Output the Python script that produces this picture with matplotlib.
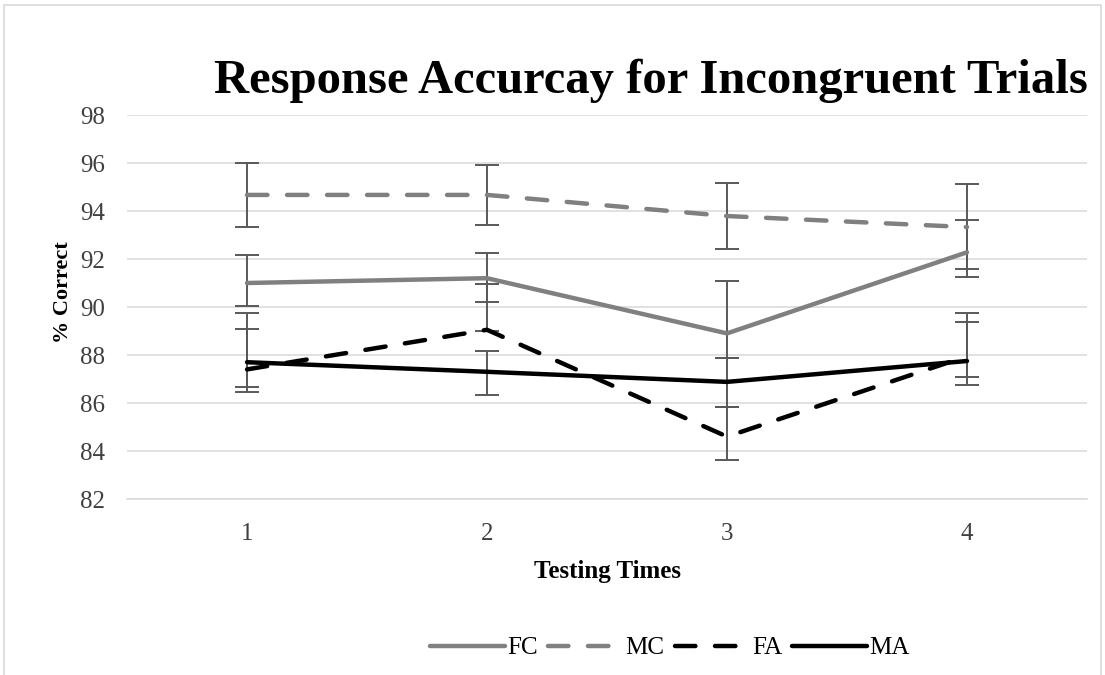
import numpy as np
import matplotlib.pyplot as plt
from matplotlib.patches import Rectangle

# Testing times on x axis
times = [1, 2, 3, 4]

# Mean % correct per group
fc = [91.0, 91.2, 88.9, 92.28]
mc = [94.67, 94.67, 93.79, 93.33]
fa = [87.4, 89.05, 84.6, 87.95]
ma = [87.7, 87.3, 86.88, 87.75]

# Error-bar ends (upper, lower), as drawn in the original
fc_hi = [92.17, 92.24, 91.08, 93.63]
fc_lo = [90.03, 90.20, 87.86, 91.26]
mc_hi = [96.01, 95.92, 95.18, 95.13]
mc_lo = [93.32, 93.42, 92.42, 91.57]
fa_hi = [89.07, 90.95, 85.85, 89.39]
fa_lo = [86.66, 89.01, 83.63, 87.10]
ma_hi = [89.76, 88.18, 87.86, 89.74]
ma_lo = [86.44, 86.32, 85.85, 86.75]

yticks = [82, 84, 86, 88, 90, 92, 94, 96, 98]

plt.rcParams['font.family'] = ['Liberation Serif', 'DejaVu Serif']

fig = plt.figure(figsize=(11.05, 6.75), dpi=100)
# light chart border
fig.patches.append(Rectangle((0.004, -0.01), 0.992, 1.002, transform=fig.transFigure,
                             fill=False, edgecolor='#d9d9d9', linewidth=1.2))

ax = fig.add_axes([127 / 1105, 1 - 499 / 675, 960 / 1105, 384 / 675])

gray = '#808080'
bar_color = '#595959'

series = [
    ('FC', fc, fc_hi, fc_lo, gray, '-'),
    ('MC', mc, mc_hi, mc_lo, gray, (0, (4.6, 4.4))),
    ('FA', fa, fa_hi, fa_lo, 'black', (0, (4.6, 4.4))),
    ('MA', ma, ma_hi, ma_lo, 'black', '-'),
]

for name, vals, hi, lo, col, ls in series:
    vals = np.array(vals)
    yerr = [vals - np.array(lo), np.array(hi) - vals]
    ax.errorbar(times, vals, yerr=yerr, fmt='none', ecolor=bar_color,
                elinewidth=1.4, capsize=8.5, capthick=1.4, zorder=3)

for name, vals, hi, lo, col, ls in series:
    ax.plot(times, vals, color=col, linestyle=ls, linewidth=3.2,
            solid_capstyle='round', dash_capstyle='round', label=name, zorder=4)

ax.set_xlim(0.5, 4.5)
ax.set_ylim(82, 98)
ax.set_xticks(times)
ax.set_yticks(yticks)
ax.tick_params(axis='both', length=0, labelsize=18, colors='#404040')
ax.tick_params(axis='x', pad=17)
ax.tick_params(axis='y', pad=16)
ax.yaxis.grid(True, color='#d9d9d9', linewidth=1.1)
ax.set_axisbelow(True)
for side in ['top', 'right', 'left']:
    ax.spines[side].set_visible(False)
ax.spines['bottom'].set_color('#d9d9d9')
ax.spines['bottom'].set_linewidth(1.1)

ax.set_xlabel('Testing Times', fontsize=18, fontweight='bold', labelpad=11)
ax.set_ylabel('% Correct', fontsize=16, fontweight='bold')
ax.yaxis.set_label_coords(-0.056, 0.54)

fig.text(651 / 1105, 1 - 81 / 675, 'Response Accurcay for Incongruent Trials',
         ha='center', va='center', fontsize=35, fontweight='bold')

fig.legend(loc='center', bbox_to_anchor=(670 / 1105, 1 - 648 / 675), ncol=4,
           frameon=False, fontsize=18, handlelength=3.0, handletextpad=0.1,
           columnspacing=0.4)

fig.savefig('out.png', dpi=100)
